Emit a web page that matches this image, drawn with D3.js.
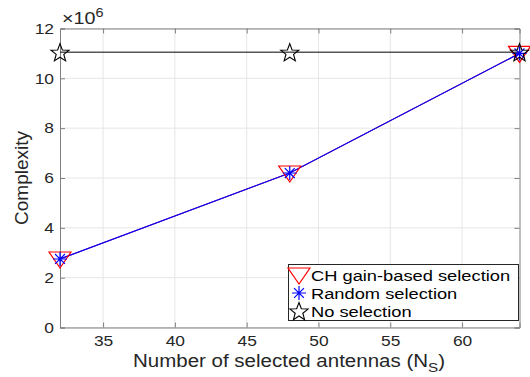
<!DOCTYPE html>
<html><head><meta charset="utf-8">
<script src="https://cdn.jsdelivr.net/npm/d3@7"></script>
<style>body{margin:0;background:#fff}text{font-family:"Liberation Sans",Arial,sans-serif}</style>
</head><body><svg id="c" width="530" height="377"></svg>
<script>
const xs = [32, 48, 64];
const chGain = [2.75, 6.2, 11.0];
const randomSel = [2.75, 6.2, 11.0];
const noSel = [11.05, 11.05, 11.05];
const xTicks = [35, 40, 45, 50, 55, 60];
const yTicks = [0, 2, 4, 6, 8, 10, 12];
const legendLabels = ["CH gain-based selection", "Random selection", "No selection"];

const svg = d3.select("#c");
const L = 60, R = 519.5, T = 28.5, B = 327.5;
const SX = 1.16;
const x = d3.scaleLinear().domain([32, 64]).range([L, R]);
const y = d3.scaleLinear().domain([0, 12]).range([B, T]);

// grid
const g = svg.append("g");
g.selectAll(".gx").data(xTicks).enter().append("line")
  .attr("x1", d => x(d)).attr("x2", d => x(d)).attr("y1", T).attr("y2", B)
  .attr("stroke", "#e6e6e6").attr("stroke-width", 1);
g.selectAll(".gy").data(yTicks).enter().append("line")
  .attr("x1", L).attr("x2", R).attr("y1", d => y(d)).attr("y2", d => y(d))
  .attr("stroke", "#e6e6e6").attr("stroke-width", 1);

// axes
const ax = svg.append("g").attr("transform", `translate(0,${B})`)
  .call(d3.axisBottom(x).tickValues(xTicks).tickSize(-5).tickPadding(8));
const ay = svg.append("g").attr("transform", `translate(${L},0)`)
  .call(d3.axisLeft(y).tickValues(yTicks).tickSize(-5).tickPadding(6));
const axT = svg.append("g").attr("transform", `translate(0,${T})`)
  .call(d3.axisTop(x).tickValues(xTicks).tickSize(-5).tickFormat(""));
const ayR = svg.append("g").attr("transform", `translate(${R},0)`)
  .call(d3.axisRight(y).tickValues(yTicks).tickSize(-5).tickFormat(""));
[ax, ay, axT, ayR].forEach(a => {
  a.selectAll("path").attr("stroke", "#808080");
  a.selectAll("line").attr("stroke", "#808080");
  a.selectAll("text").attr("fill", "#262626").style("font-size", "15px").style("font-family", "Liberation Sans, Arial, sans-serif");
});
ax.selectAll(".tick text").attr("transform", `scale(${SX},1)`);
ay.selectAll(".tick text").each(function () {
  const t = d3.select(this);
  const xx = +t.attr("x");
  t.attr("x", 0).attr("transform", `translate(${xx},0) scale(${SX},1)`);
});

// exponent
const ex = svg.append("text").attr("transform", `translate(62,24) scale(${SX},1)`).attr("fill", "#262626").style("font-size", "17px");
ex.append("tspan").text("\u00d710");
ex.append("tspan").attr("dy", -7).style("font-size", "12.5px").text("6");

// labels
svg.append("text").attr("transform", `translate(28,${178}) rotate(-90)`)
  .attr("text-anchor", "middle").attr("fill", "#262626").style("font-size", "19px").text("Complexity");
const xl = svg.append("text").attr("x", 133).attr("y", 367)
  .attr("fill", "#262626").style("font-size", "17.5px")
  .attr("textLength", 312).attr("lengthAdjust", "spacingAndGlyphs");
xl.append("tspan").text("Number of selected antennas (N");
xl.append("tspan").attr("dy", 5).style("font-size", "13px").text("S");
xl.append("tspan").attr("dy", -5).text(")");

// lines
const line = d3.line().x((d, i) => x(xs[i])).y(d => y(d));
svg.append("path").datum(noSel).attr("d", line).attr("fill", "none").attr("stroke", "#000").attr("stroke-width", 1);
svg.append("path").datum(chGain).attr("d", line).attr("fill", "none").attr("stroke", "#ff0000").attr("stroke-width", 1);
svg.append("path").datum(randomSel).attr("d", line).attr("fill", "none").attr("stroke", "#0000ff").attr("stroke-width", 1.3);

// markers
function tri(sel, cx, cy) {
  sel.append("path").attr("d", `M${cx - 11},${cy - 7}L${cx + 11},${cy - 7}L${cx},${cy + 9}Z`)
    .attr("fill", "none").attr("stroke", "#ff0000").attr("stroke-width", 1.2);
}
function ast(sel, cx, cy) {
  const r = 7;
  let d = "";
  [0, 45, 90, 135].forEach(a => {
    const rad = a * Math.PI / 180, dx = r * Math.cos(rad), dy = r * Math.sin(rad);
    d += `M${cx - dx},${cy - dy}L${cx + dx},${cy + dy}`;
  });
  sel.append("path").attr("d", d).attr("stroke", "#0000ff").attr("stroke-width", 1.2).attr("fill", "none");
}
function star(sel, cx, cy) {
  const pts = [];
  for (let i = 0; i < 10; i++) {
    const r = i % 2 === 0 ? 9.5 : 4;
    const a = -Math.PI / 2 + i * Math.PI / 5;
    pts.push([cx + r * Math.cos(a), cy + r * Math.sin(a) + 1]);
  }
  sel.append("path").attr("d", "M" + pts.join("L") + "Z").attr("fill", "none").attr("stroke", "#000").attr("stroke-width", 1.1);
}
const mk = svg.append("g");
chGain.forEach((v, i) => tri(mk, x(xs[i]), y(v)));
randomSel.forEach((v, i) => ast(mk, x(xs[i]), y(v)));
noSel.forEach((v, i) => star(mk, x(xs[i]), y(v)));

// legend
const lg = svg.append("g");
lg.append("rect").attr("x", 288.5).attr("y", 264.5).attr("width", 230).attr("height", 56)
  .attr("fill", "#fff").attr("stroke", "#262626").attr("stroke-width", 1);
const ly = [275, 293, 311];
const fns = [tri, ast, star];
legendLabels.forEach((t, i) => {
  fns[i](lg, 299, ly[i]);
  lg.append("text").attr("transform", `translate(311,${ly[i] + 6}) scale(1.18,1)`)
    .attr("fill", "#000").style("font-size", "15.5px").text(t);
});
</script></body></html>
